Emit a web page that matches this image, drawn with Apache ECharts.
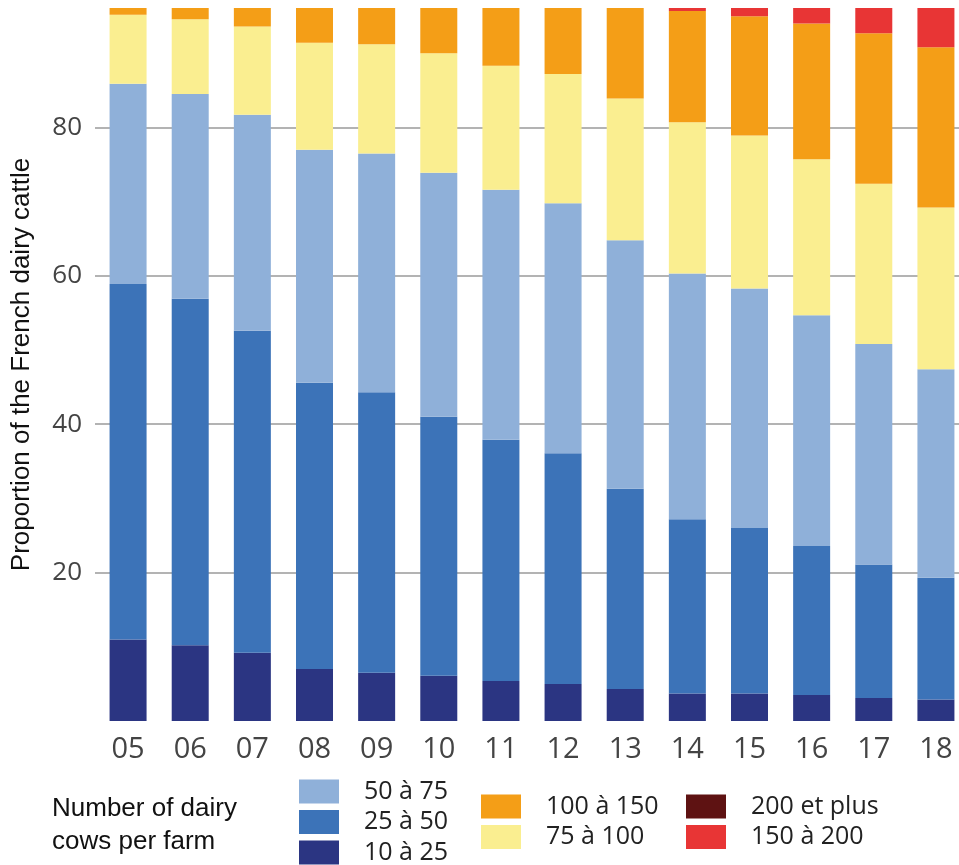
<!DOCTYPE html>
<html>
<head>
<meta charset="utf-8">
<script src="https://cdn.jsdelivr.net/npm/echarts@6/dist/echarts.min.js"></script>
<style>
  html, body { margin: 0; padding: 0; background: #fff; }
  #chart { width: 959px; height: 865px; }
</style>
</head>
<body>
<div id="chart"></div>
<script>
// Years (2005–2018)
const years = ['05', '06', '07', '08', '09', '10', '11', '12', '13', '14', '15', '16', '17', '18'];

// Share of the dairy herd (%) by herd size class
const s10to25   = [11.0, 10.2, 9.2, 7.0, 6.5, 6.1, 5.4, 5.0, 4.3, 3.7, 3.7, 3.5, 3.1, 2.9];
const s25to50   = [47.9, 46.7, 43.4, 38.6, 37.8, 34.9, 32.5, 31.1, 27.0, 23.5, 22.3, 20.1, 18.0, 16.4];
const s50to75   = [27.0, 27.6, 29.1, 31.4, 32.2, 32.9, 33.7, 33.7, 33.5, 33.1, 32.3, 31.1, 29.7, 28.1];
const s75to100  = [9.3, 10.1, 11.9, 14.4, 14.7, 16.1, 16.7, 17.4, 19.1, 20.4, 20.6, 21.0, 21.6, 21.8];
const s100to150 = [4.8, 5.4, 6.4, 8.6, 8.8, 10.0, 11.7, 12.8, 14.6, 15.0, 16.1, 18.3, 20.3, 21.6];
const s150to200 = [0, 0, 0, 0, 0, 0, 0, 0, 1.2, 3.8, 4.3, 5.0, 5.8, 6.8];
const s200plus  = [0, 0, 0, 0, 0, 0, 0, 0, 0.3, 0.5, 0.7, 1.0, 1.5, 2.4];

const yTicks = { min: 0, max: 96.1, interval: 20 };

const classes = [
  { name: '10 à 25',     data: s10to25,   color: '#2b3582' },
  { name: '25 à 50',     data: s25to50,   color: '#3c73b8' },
  { name: '50 à 75',     data: s50to75,   color: '#8fb0d9' },
  { name: '75 à 100',    data: s75to100,  color: '#faee90' },
  { name: '100 à 150',   data: s100to150, color: '#f49e17' },
  { name: '150 à 200',   data: s150to200, color: '#e83535' },
  { name: '200 et plus', data: s200plus,  color: '#5e1212' }
];

const legendText = {
  fontFamily: 'Open Sans',
  fontSize: 25,
  lineHeight: 24,
  color: '#222',
  padding: [0, 0, 0, 20]
};

function legendBlock(names, left, top) {
  return {
    orient: 'vertical',
    left: left,
    top: top,
    data: names,
    icon: 'rect',
    itemWidth: 40,
    itemHeight: 24,
    itemGap: 5.5,
    padding: 0,
    selectedMode: false,
    textStyle: legendText
  };
}

const chart = echarts.init(document.getElementById('chart'), null, { renderer: 'canvas' });

chart.setOption({
  animation: false,
  backgroundColor: '#fff',
  title: {
    text: 'Number of dairy\ncows per farm',
    left: 52,
    top: 792,
    padding: 0,
    textStyle: {
      fontFamily: 'Liberation Sans',
      fontWeight: 'normal',
      fontSize: 26,
      lineHeight: 33,
      color: '#111'
    }
  },
  legend: [
    legendBlock(['50 à 75', '25 à 50', '10 à 25'], 299, 779),
    legendBlock(['100 à 150', '75 à 100'], 481, 794),
    legendBlock(['200 et plus', '150 à 200'], 686, 794)
  ],
  grid: {
    left: 97,
    top: 8,
    width: 870,
    bottom: 144,
    outerBoundsMode: 'none',
    containLabel: false
  },
  xAxis: {
    type: 'category',
    data: years,
    axisLine: { show: false },
    axisTick: { show: false },
    axisLabel: {
      margin: 14,
      fontFamily: 'Open Sans',
      fontSize: 29,
      color: '#444'
    }
  },
  yAxis: {
    type: 'value',
    min: yTicks.min,
    max: yTicks.max,
    interval: yTicks.interval,
    name: 'Proportion of the French dairy cattle',
    nameLocation: 'middle',
    nameGap: 62,
    nameTextStyle: {
      fontFamily: 'Liberation Sans',
      fontSize: 26,
      color: '#111'
    },
    axisLine: { show: false },
    axisTick: { show: true, length: 2, lineStyle: { color: '#9a9a9a', width: 1.5 } },
    axisLabel: {
      margin: 15,
      showMinLabel: false,
      showMaxLabel: false,
      fontFamily: 'Open Sans',
      fontSize: 26,
      color: '#444'
    },
    splitLine: {
      show: true,
      showMinLine: false,
      showMaxLine: false,
      lineStyle: { color: '#9a9a9a', width: 1.5 }
    }
  },
  series: classes.map(c => ({
    name: c.name,
    type: 'bar',
    stack: 'herd',
    barWidth: 37,
    clip: true,
    data: c.data,
    itemStyle: { color: c.color },
    emphasis: { disabled: true }
  }))
});
</script>
</body>
</html>
